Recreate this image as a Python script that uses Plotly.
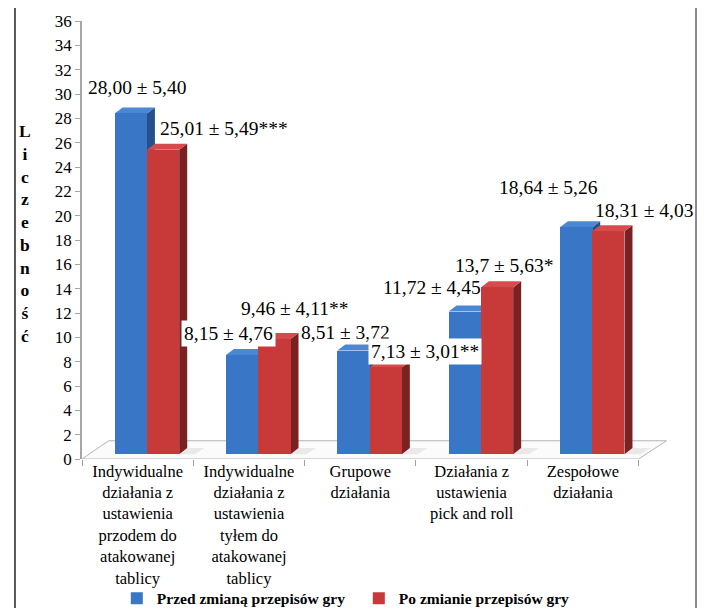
import plotly.graph_objects as go

# category labels (x axis)
categories = [
    "Indywidualne<br>działania z<br>ustawienia<br>przodem do<br>atakowanej<br>tablicy",
    "Indywidualne<br>działania z<br>ustawienia<br>tyłem do<br>atakowanej<br>tablicy",
    "Grupowe<br>działania",
    "Działania z<br>ustawienia<br>pick and roll",
    "Zespołowe<br>działania",
]

# mean values before / after the rule change
before = [28.00, 8.15, 8.51, 11.72, 18.64]
after = [25.01, 9.46, 7.13, 13.70, 18.31]

# value labels as printed on the chart (mean ± sd, significance)
before_labels = ["28,00 ± 5,40", "8,15 ± 4,76", "8,51 ± 3,72", "11,72 ± 4,45", "18,64 ± 5,26"]
after_labels = ["25,01 ± 5,49***", "9,46 ± 4,11**", "7,13 ± 3,01**", "13,7 ± 5,63*", "18,31 ± 4,03"]

y_ticks = list(range(0, 37, 2))

# styling of the pseudo-3D bars
FONT = "Liberation Serif"
BLUE_FRONT, BLUE_SIDE, BLUE_TOP = "#3a76c6", "#24508c", "#4a88d6"
RED_FRONT, RED_SIDE, RED_TOP = "#c83a3a", "#7a2222", "#d64c4c"
WIDTH = 0.29
BLUE_OFF, RED_OFF = -0.062, 0.228
BASE = 0.4          # bars stand on the floor, a bit behind the front edge
DX, DY = 0.072, 0.5  # depth of the bars

xs = list(range(len(categories)))

fig = go.Figure()
fig.add_trace(go.Bar(x=[x + BLUE_OFF for x in xs], y=before, base=BASE, width=WIDTH,
                     name="Przed zmianą przepisów gry", marker_color=BLUE_FRONT,
                     marker_line_width=0))
fig.add_trace(go.Bar(x=[x + RED_OFF for x in xs], y=after, base=BASE, width=WIDTH,
                     name="Po zmianie przepisów gry", marker_color=RED_FRONT,
                     marker_line_width=0))

shapes = []

# floor of the 3D chart
shapes.append(dict(type="path", xref="x", yref="y", layer="below",
                   path="M -0.5,0 L 4.5,0 L 4.75,1.5 L -0.26,1.5 Z",
                   fillcolor="#fbfbfb", line=dict(color="#b4b4b4", width=1)))


def box_faces(xc, value, front, side, top):
    x0 = xc - WIDTH / 2
    x1 = xc + WIDTH / 2
    b = BASE
    t = BASE + value
    side_path = f"M {x1},{b} L {x1 + DX},{b + DY} L {x1 + DX},{t + DY} L {x1},{t} Z"
    top_path = f"M {x0},{t} L {x0 + DX},{t + DY} L {x1 + DX},{t + DY} L {x1},{t} Z"
    return [
        dict(type="path", xref="x", yref="y", layer="below", path=side_path,
             fillcolor=side, line=dict(width=0)),
        dict(type="path", xref="x", yref="y", layer="below", path=top_path,
             fillcolor=top, line=dict(width=0)),
    ]


for i in xs:
    # soft shadow on the floor
    x_end = i + RED_OFF + WIDTH / 2
    shapes.append(dict(type="path", xref="x", yref="y", layer="below",
                       path=f"M {x_end},{BASE} L {x_end + DX},{BASE + DY} "
                            f"L {x_end + DX + 0.16},{BASE + DY} L {x_end + 0.14},{BASE} Z",
                       fillcolor="rgba(0,0,0,0.07)", line=dict(width=0)))
    shapes += box_faces(i + BLUE_OFF, before[i], BLUE_FRONT, BLUE_SIDE, BLUE_TOP)
    shapes += box_faces(i + RED_OFF, after[i], RED_FRONT, RED_SIDE, RED_TOP)

# outer frame
shapes.append(dict(type="line", xref="paper", yref="paper", x0=-0.1136, x1=-0.1136,
                   y0=-0.4, y1=1.032, line=dict(color="#222222", width=1.5)))
shapes.append(dict(type="line", xref="paper", yref="paper", x0=-0.1136, x1=1.0407,
                   y0=1.032, y1=1.032, line=dict(color="#222222", width=1.5)))
shapes.append(dict(type="line", xref="paper", yref="paper", x0=1.0407, x1=1.0407,
                   y0=-0.4, y1=1.032, line=dict(color="#8a8a8a", width=2)))

# value labels: positions in data units
label_pos_before = [(-0.006, 30.5), (0.82, 10.35), (1.87, 10.4), (2.64, 14.1), (3.69, 22.35)]
label_pos_after = [(0.775, 27.2), (1.41, 12.4), (2.58, 8.8), (3.29, 15.9), (4.545, 20.45)]
white_box = {("b", 1), ("a", 2)}

annotations = []
for i in xs:
    for key, labels, pos in (("b", before_labels, label_pos_before),
                             ("a", after_labels, label_pos_after)):
        ann = dict(x=pos[i][0], y=pos[i][1], xref="x", yref="y", text=labels[i],
                   showarrow=False, xanchor="center", yanchor="middle",
                   font=dict(family=FONT, size=19.5, color="black"))
        if (key, i) in white_box:
            ann.update(bgcolor="white", borderpad=2)
        annotations.append(ann)

# stacked y axis title
annotations.append(dict(x=-0.0966, y=0.514, xref="paper", yref="paper",
                        text="<br>".join("Liczebność"), showarrow=False,
                        xanchor="center", yanchor="middle",
                        font=dict(family=FONT, size=17.5, color="black", weight="bold")))

# page body adds an 8px margin, so the figure is a bit smaller than the window
fig.update_layout(
    width=689, height=600,
    margin=dict(l=74, r=25, t=13, b=149, autoexpand=False),
    paper_bgcolor="white", plot_bgcolor="white",
    font=dict(family=FONT, size=16, color="black"),
    barmode="overlay",
    bargap=0,
    shapes=shapes,
    annotations=annotations,
    showlegend=True,
    legend=dict(orientation="h", xref="paper", yref="container",
                x=0.059, y=0.0155, xanchor="left", yanchor="middle",
                entrywidth=197, entrywidthmode="pixels",
                font=dict(family=FONT, size=15.5, color="black", weight="bold"),
                bgcolor="rgba(0,0,0,0)"),
)

fig.update_xaxes(
    range=[-0.5, 4.8],
    tickmode="array", tickvals=xs, ticktext=categories,
    ticks="", showline=False, showgrid=False, zeroline=False,
    tickfont=dict(family=FONT, size=16.5, color="black"),
    minor=dict(tickmode="array", tickvals=[x - 0.5 for x in range(len(categories) + 1)],
               ticks="outside", ticklen=6, tickcolor="#a0a0a0", showgrid=False),
)
fig.update_yaxes(
    range=[0, 36],
    tickmode="array", tickvals=y_ticks,
    ticks="outside", ticklen=5, tickcolor="#a6a6a6",
    showline=True, linecolor="#a6a6a6", linewidth=1.5,
    showgrid=False, zeroline=False,
    tickfont=dict(family=FONT, size=17, color="black"),
)

fig.write_html("out.html")
